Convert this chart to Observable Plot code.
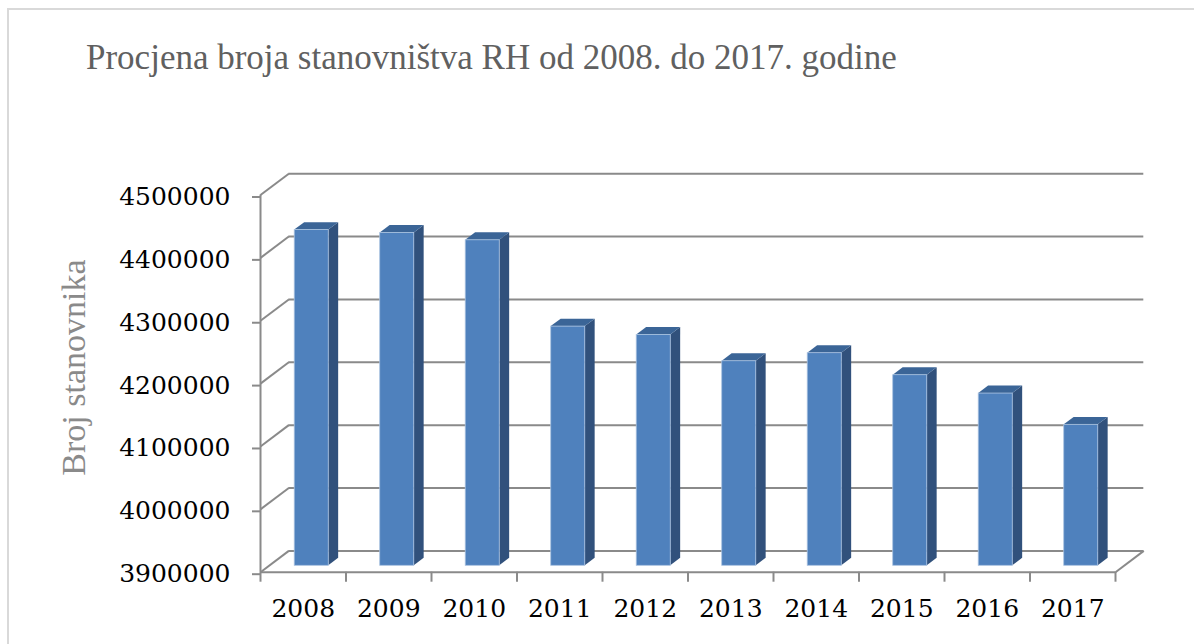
<!DOCTYPE html>
<html>
<head>
<meta charset="utf-8">
<script src="https://cdn.jsdelivr.net/npm/d3@7"></script>
<script src="https://cdn.jsdelivr.net/npm/@observablehq/plot@0.6"></script>
<style>
  html, body { margin: 0; padding: 0; background: #fff; }
  #wrap { position: relative; width: 1194px; height: 644px; overflow: hidden; }
  #frame { position: absolute; left: 7px; top: 8px; width: 1300px; height: 700px;
           border-left: 2px solid #d9d9d9; border-top: 2px solid #d9d9d9; }
  #title { position: absolute; left: 86px; top: 40px; font-family: "Liberation Serif", serif;
           font-size: 35px; line-height: 1; color: #606060; white-space: nowrap; }
  #chart { position: absolute; left: 0; top: 0; }
</style>
</head>
<body>
<div id="wrap">
  <div id="frame"></div>
  <div id="chart"></div>
  <div id="title">Procjena broja stanovništva RH od 2008. do 2017. godine</div>
</div>
<script>
// ---- data ----
const years = [2008, 2009, 2010, 2011, 2012, 2013, 2014, 2015, 2016, 2017];
const population = [4434000, 4429400, 4417800, 4280500, 4267200, 4225400, 4238200, 4203200, 4174000, 4124200];
const yTicks = [3900000, 4000000, 4100000, 4200000, 4300000, 4400000, 4500000];
const yLabel = "Broj stanovnika";

// ---- 3D projection constants (in data units) ----
const yMin = 3900000, yMax = 4500000;
const DX = 0.331;     // full depth, x shift (category units)
const DY = 33880;     // full depth, y shift (value units)
const f = 0.30;       // depth position of bar front face
const d = 0.35;       // bar depth
const w = 0.199;      // bar half width

const bars = years.map((yr, i) => {
  const x1 = i + 0.5 - w + f * DX, x2 = i + 0.5 + w + f * DX;
  const base = yMin + f * DY, top = population[i] + f * DY;
  return {i, yr, x1, x2, base, top};
});
const sides = bars.flatMap(b => [
  {i: b.i, x: b.x2, y1: b.base, y2: b.top},
  {i: b.i, x: b.x2 + d * DX, y1: b.base + d * DY, y2: b.top + d * DY}
]);
const tops = bars.flatMap(b => [
  {i: b.i, y: b.top, x1: b.x1, x2: b.x2},
  {i: b.i, y: b.top + d * DY, x1: b.x1 + d * DX, x2: b.x2 + d * DX}
]);
const n = years.length;
const grey = "#8a8a8a";

const chart = Plot.plot({
  width: 1194,
  height: 644,
  marginLeft: 260,
  marginRight: 79,
  marginTop: 194.5,
  marginBottom: 72.3,
  style: {fontFamily: "DejaVu Serif", background: "transparent", overflow: "visible"},
  x: {type: "linear", domain: [0, n]},
  y: {type: "linear", domain: [yMin, yMax]},
  marks: [
    // back wall gridlines
    Plot.ruleY(yTicks, {y: t => t + DY, x1: DX, x2: n + DX, stroke: grey, strokeWidth: 2}),
    // side wall diagonals
    Plot.link(yTicks, {x1: 0, y1: t => t, x2: DX, y2: t => t + DY, stroke: grey, strokeWidth: 2}),
    // floor right edge
    Plot.link([yMin], {x1: n, y1: t => t, x2: n + DX, y2: t => t + DY, stroke: grey, strokeWidth: 2}),
    // front axis lines
    Plot.ruleX([0], {y1: yMin, y2: yMax, stroke: grey, strokeWidth: 2}),
    Plot.ruleY([yMin], {x1: 0, x2: n, stroke: grey, strokeWidth: 2}),
    // bars: side, top, front
    Plot.areaY(sides, {x: "x", y1: "y1", y2: "y2", z: "i", fill: "#31517c", curve: "linear"}),
    Plot.areaX(tops, {y: "y", x1: "x1", x2: "x2", z: "i", fill: "#3b6597", curve: "linear"}),
    Plot.rect(bars, {x1: "x1", x2: "x2", y1: "base", y2: "top", fill: "#4f81bd", stroke: "#a9c2e0", strokeWidth: 0.8}),
    // axes
    Plot.axisY({ticks: yTicks, tickSize: 8, tickPadding: 22, tickFormat: d3.format("d"),
      stroke: grey, strokeWidth: 2, fill: "#000", fontSize: 25, fontFamily: "DejaVu Serif", dy: 2, label: null}),
    Plot.axisX({ticks: d3.range(n + 1), tickSize: 10, tickFormat: () => "", stroke: grey, strokeWidth: 2, label: null}),
    Plot.axisX({ticks: years.map((_, i) => i + 0.5), tickSize: 0, tickPadding: 27,
      tickFormat: v => String(years[Math.floor(v)]), fill: "#000", fontSize: 25, fontFamily: "DejaVu Serif", label: null}),
    // y axis title
    Plot.text([yLabel], {frameAnchor: "left", rotate: -90, dx: -186, dy: -16, textAnchor: "middle",
      fontFamily: "Liberation Serif", fontSize: 34, fill: "#8a8a8a", text: d => d, lineAnchor: "middle"})
  ]
});
document.getElementById("chart").appendChild(chart);
</script>
</body>
</html>
